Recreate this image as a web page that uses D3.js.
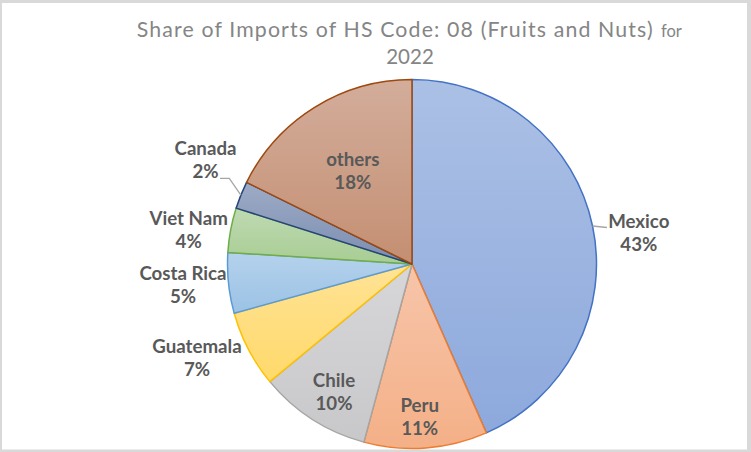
<!DOCTYPE html>
<html><head><meta charset="utf-8">
<script src="https://cdn.jsdelivr.net/npm/d3@7"></script>
<style>html,body{margin:0;padding:0;background:#fff;} svg{display:block}</style>
</head><body><svg id="c" width="751" height="452"></svg>
<script>
// ---- data ----
const countries = ["Mexico","Peru","Chile","Guatemala","Costa Rica","Viet Nam","Canada","others"];
const shares = [43.4,10.8,9.8,6.7,5.3,3.9,2.4,17.7];
const percentLabels = ["43%","11%","10%","7%","5%","4%","2%","18%"];
const baseColors = ["#4472C4","#ED7D31","#A5A5A5","#FFC000","#5B9BD5","#70AD47","#264478","#9E480E"];
const titleMain = "Share  of  Imports  of  HS Code:  08  (Fruits and Nuts)";
const titleFor = "for";
const titleYear = "2022";

// ---- layout ----
const W = 751, H = 452;
const cx = 412, cy = 264, R = 184.5;
const labelLayout = {
  "Mexico":[638.8,228], "Peru":[419.7,411.7], "Chile":[334,386.7], "Guatemala":[197,352.7],
  "Costa Rica":[183,280], "Viet Nam":[188.7,224.7], "Canada":[205.5,155], "others":[352.8,166]
};
const lineGap = 22.8;

const svg = d3.select("#c");
svg.append("rect").attr("x",0).attr("y",0).attr("width",W).attr("height",H).attr("fill","#d9d9d9");
svg.append("rect").attr("x",2).attr("y",3).attr("width",745).attr("height",446.5).attr("fill","#fff");

// title
const t = svg.append("text").attr("x",136.7).attr("y",36.7)
  .attr("font-family","Lato, 'Open Sans', sans-serif").attr("font-weight",400).attr("fill","#858585");
t.append("tspan").attr("font-size",21.3).attr("textLength",516).attr("lengthAdjust","spacing").text(titleMain);
t.append("tspan").attr("x",661).attr("font-size",16.5).text(titleFor);
svg.append("text").attr("x",410).attr("y",64.3).attr("text-anchor","middle")
  .attr("font-family","Lato, 'Open Sans', sans-serif").attr("font-weight",400).attr("font-size",20.5)
  .attr("fill","#858585").text(titleYear);

// gradients
const defs = svg.append("defs");
const tint = (c,t) => { const a=d3.rgb(c); return d3.rgb(a.r+(255-a.r)*t, a.g+(255-a.g)*t, a.b+(252-a.b)*t*1.08); };
baseColors.forEach((c,i)=>{
  const g = defs.append("linearGradient").attr("id","g"+i).attr("x1",0).attr("y1",0).attr("x2",0).attr("y2",1);
  g.append("stop").attr("offset","0%").attr("stop-color",tint(c,0.55));
  g.append("stop").attr("offset","100%").attr("stop-color",tint(c,0.39));
});

const data = countries.map((n,i)=>({name:n, value:shares[i], pct:percentLabels[i], color:baseColors[i], i}));
const pie = d3.pie().value(d=>d.value).sort(null);
const arcs = pie(data);
const arc = d3.arc().innerRadius(0).outerRadius(R);
const g = svg.append("g").attr("transform",`translate(${cx},${cy})`);
g.selectAll("path").data(arcs).join("path")
  .attr("d",arc).attr("fill",d=>`url(#g${d.data.i})`)
  .attr("stroke",d=>d.data.color).attr("stroke-width",1.5).attr("stroke-linejoin","round");

// leader lines
const midPt = d => { const a=(d.startAngle+d.endAngle)/2; return [cx+R*Math.sin(a), cy-R*Math.cos(a)]; };
const leader = d3.line();
arcs.forEach(d=>{
  const p = midPt(d);
  let pts = null;
  if (d.data.name==="Mexico") pts = [p,[607,p[1]+1.5]];
  if (d.data.name==="Canada") pts = [p,[229.3,178.3],[220,178.3]];
  if (pts) svg.append("path").attr("d",leader(pts)).attr("fill","none").attr("stroke","#a6a6a6").attr("stroke-width",1.3);
});

// labels
arcs.forEach(d=>{
  const [x,y] = labelLayout[d.data.name];
  const tx = svg.append("text").attr("text-anchor","middle")
    .attr("font-family","Lato, 'Open Sans', sans-serif").attr("font-weight",700).attr("font-size",18.7)
    .attr("fill","#595959");
  tx.append("tspan").attr("x",x).attr("y",y).text(d.data.name);
  tx.append("tspan").attr("x",x).attr("y",y+lineGap).text(d.data.pct);
});
</script></body></html>
